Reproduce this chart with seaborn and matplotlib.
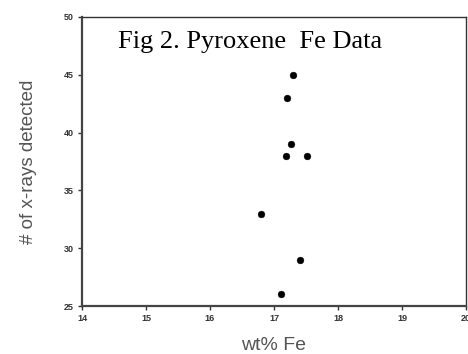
import matplotlib
matplotlib.use("Agg")
import matplotlib.pyplot as plt
import seaborn as sns
import pandas as pd

wt_fe = [17.29, 17.21, 17.26, 17.19, 17.51, 16.79, 17.40, 17.11]
xrays = [45, 43, 39, 38, 38, 33, 29, 26]
x_ticks = [14, 15, 16, 17, 18, 19, 20]
y_ticks = [25, 30, 35, 40, 45, 50]

df = pd.DataFrame({"wt% Fe": wt_fe, "# of x-rays detected": xrays})

sns.set_style("white")
plt.rcParams["font.family"] = ["Liberation Sans", "DejaVu Sans"]

fig = plt.figure(figsize=(4.68, 3.54), dpi=100)
ax = fig.add_axes([82/468, 1 - 306/354, (466-82)/468, (306-17)/354])

sns.scatterplot(data=df, x="wt% Fe", y="# of x-rays detected", ax=ax,
                color="black", s=24, edgecolor="black", linewidth=0.3)

ax.set_xlim(14, 20)
ax.set_ylim(25, 50)
ax.set_xticks(x_ticks)
ax.set_yticks(y_ticks)
ax.set_xticklabels([str(t) for t in x_ticks], fontsize=6.5, fontweight="bold", color="#222222")
ax.set_yticklabels([str(t) for t in y_ticks], fontsize=6.5, fontweight="bold", color="#222222")
ax.tick_params(axis="both", direction="out", length=3, width=1.0, colors="#333333", pad=3,
               bottom=True, left=True)

for side in ["left", "bottom"]:
    ax.spines[side].set_linewidth(1.6)
    ax.spines[side].set_color("#444444")
for side in ["top", "right"]:
    ax.spines[side].set_linewidth(1.0)
    ax.spines[side].set_color("#333333")

ax.set_xlabel("wt% Fe", fontsize=14, color="#555555", labelpad=10)
ax.set_ylabel("# of x-rays detected", fontsize=13.5, color="#555555", labelpad=19)

ax.text(0.093, 0.912, "Fig 2. Pyroxene  Fe Data", transform=ax.transAxes,
        fontsize=19, family=["Liberation Serif", "DejaVu Serif"], color="black",
        ha="left", va="center")

fig.savefig("out.png", dpi=100)
